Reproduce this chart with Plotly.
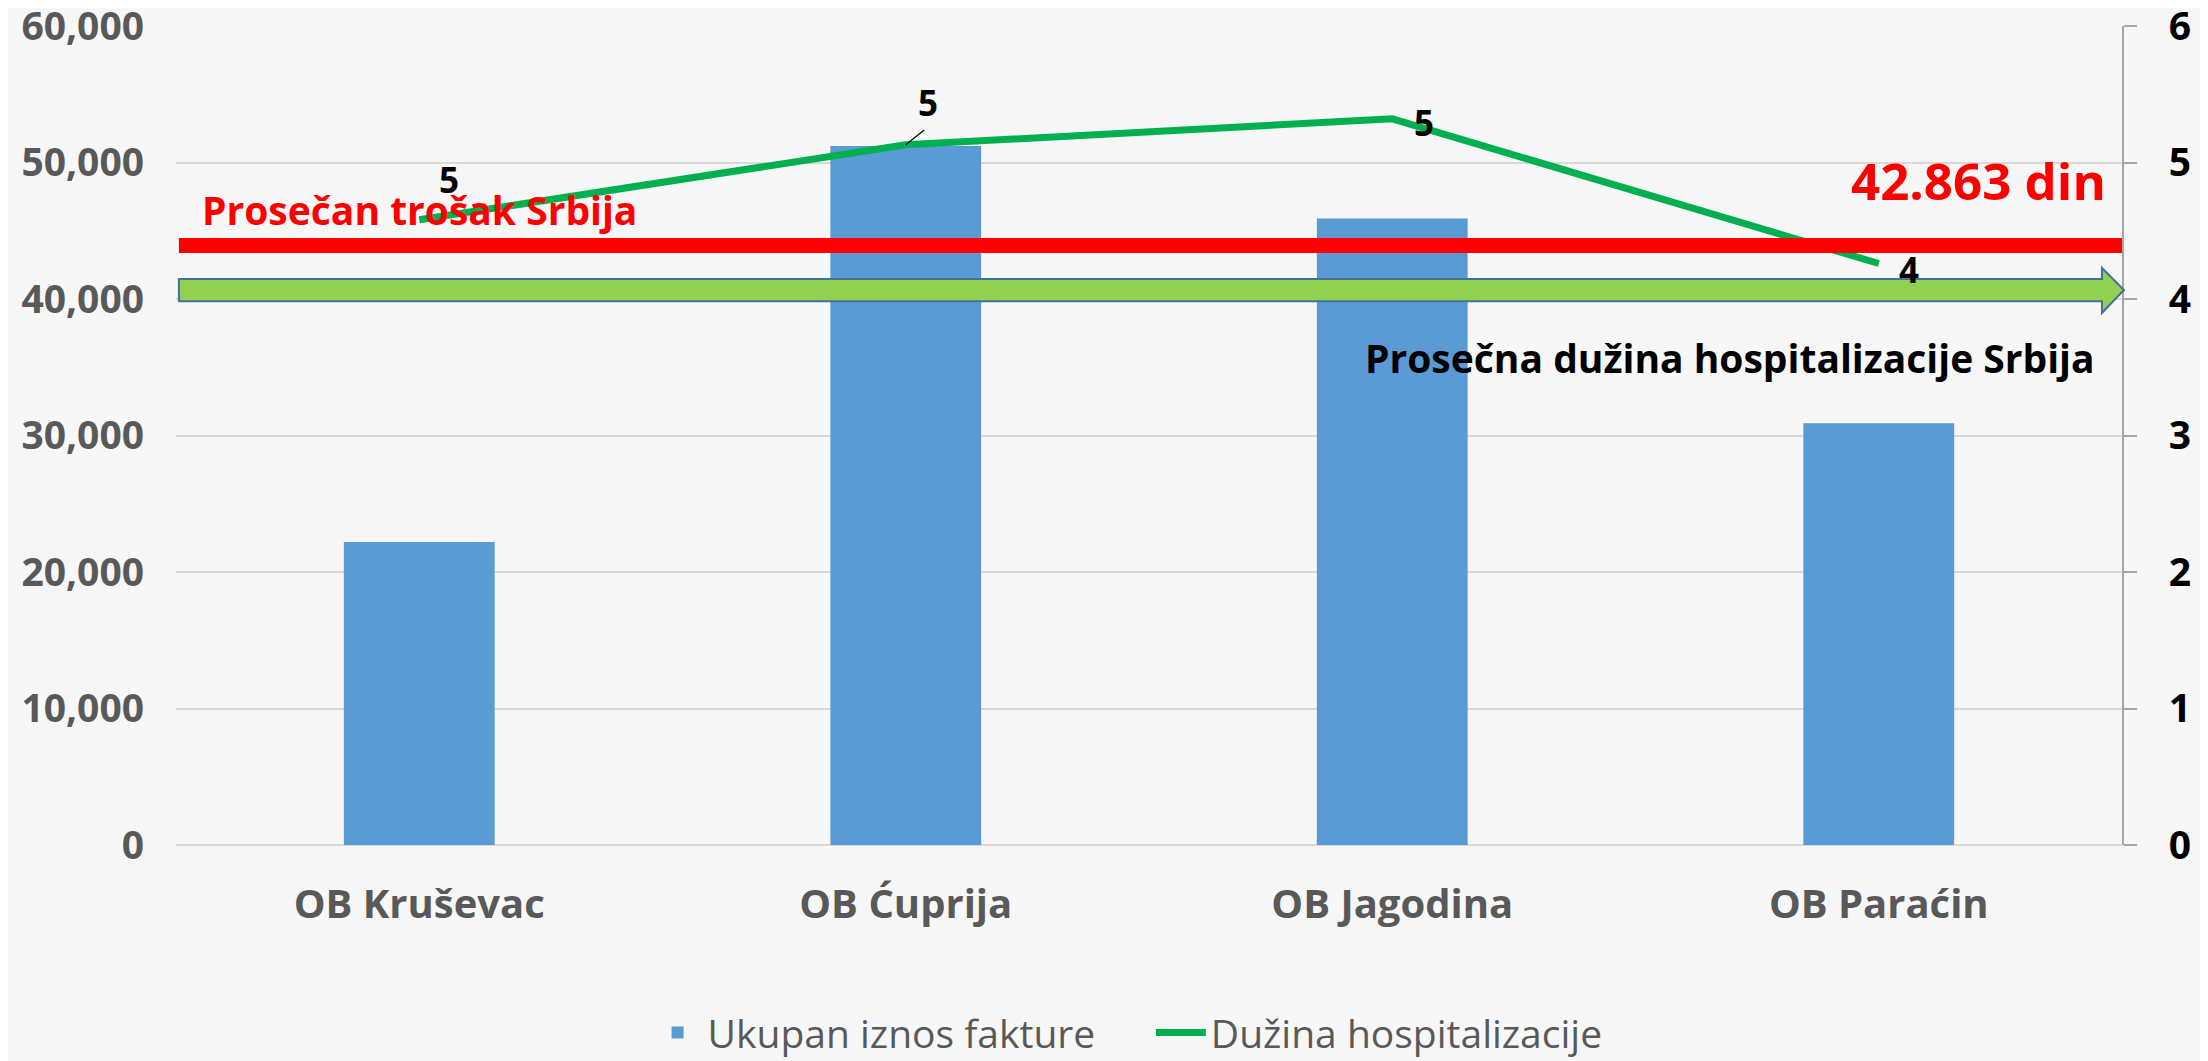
import plotly.graph_objects as go

# ---- data ----
categories = ["OB Kruševac", "OB Ćuprija", "OB Jagodina", "OB Paraćin"]
invoice_total = [22200, 51200, 45900, 30900]          # Ukupan iznos fakture (left axis)
hospital_days = [4.58, 5.13, 5.32, 4.26]              # Dužina hospitalizacije (right axis)
left_ticks = [0, 10000, 20000, 30000, 40000, 50000, 60000]
right_ticks = [0, 1, 2, 3, 4, 5, 6]
series_names = ["Ukupan iznos fakture", "Dužina hospitalizacije"]
avg_cost_label = "42.863 din"
avg_cost_text = "Prosečan trošak Srbija"
avg_stay_text = "Prosečna dužina hospitalizacije Srbija"

FONT = "Open Sans"
BG = "#f7f7f7"
PAD = "\u00a0" * 5

fig = go.Figure()
fig.add_trace(go.Bar(
    x=categories, y=invoice_total, name=series_names[0] + PAD,
    marker=dict(color="#5B9BD5", line=dict(width=0)), yaxis="y",
))
fig.add_trace(go.Scatter(
    x=categories, y=hospital_days, name=series_names[1],
    mode="lines", line=dict(color="#00B050", width=7), yaxis="y2",
))

# data labels (rounded values) next to line points
label_offsets = [(30, -40), (22, -42), (32, 4), (30, 6)]
for cat, val, (dx, dy) in zip(categories, hospital_days, label_offsets):
    fig.add_annotation(
        x=cat, y=val, xref="x", yref="y2", text=f"{round(val):d}",
        showarrow=False, xshift=dx, yshift=-dy,
        font=dict(family=FONT, size=35, color="black", weight="bold"),
    )
# leader line for second label
fig.add_annotation(
    x=categories[1], y=hospital_days[1], xref="x", yref="y2", text="",
    showarrow=True, arrowhead=0, arrowwidth=1.2, arrowcolor="black",
    ax=20, ay=-16, standoff=0,
)

# red average-cost line
fig.add_shape(type="line", xref="paper", yref="paper", x0=0.0015, x1=1.0,
              y0=0.732, y1=0.732, line=dict(color="#FF0000", width=15))
# green arrow (average stay)
ax0, axb, axt = 0.0015, 0.9897, 1.001
yb0, yb1, yh0, yh1, ytip = 0.664, 0.691, 0.6496, 0.7045, 0.6777
fig.add_shape(
    type="path", xref="paper", yref="paper",
    path=(f"M {ax0},{yb0} L {axb},{yb0} L {axb},{yh0} L {axt},{ytip} "
          f"L {axb},{yh1} L {axb},{yb1} L {ax0},{yb1} Z"),
    fillcolor="#92D050", line=dict(color="#41719C", width=2),
)

fig.add_annotation(x=0.0123, y=0.776, xref="paper", yref="paper", text=avg_cost_text,
                   showarrow=False, xanchor="left", yanchor="middle",
                   font=dict(family=FONT, size=39, color="#FF0000", weight="bold"))
fig.add_annotation(x=0.993, y=0.812, xref="paper", yref="paper", text=avg_cost_label,
                   showarrow=False, xanchor="right", yanchor="middle",
                   font=dict(family=FONT, size=51, color="#FF0000", weight="bold"))
fig.add_annotation(x=0.987, y=0.595, xref="paper", yref="paper", text=avg_stay_text,
                   showarrow=False, xanchor="right", yanchor="middle",
                   font=dict(family=FONT, size=39, color="black", weight="bold"))

fig.update_layout(
    width=2200, height=1053,
    margin=dict(l=168, r=86, t=18, b=216, autoexpand=False),
    paper_bgcolor=BG, plot_bgcolor=BG,
    bargap=0.69,
    showlegend=True,
    legend=dict(orientation="h", x=0.489, xanchor="center", y=-0.229, yanchor="middle",
                font=dict(family=FONT, size=39, color="#595959"),
                bgcolor="rgba(0,0,0,0)", itemwidth=50),
    xaxis=dict(
        tickfont=dict(family=FONT, size=40, color="#595959", weight="bold"),
        showgrid=False, showline=False, ticks="", ticklabelstandoff=32,
        automargin=False,
    ),
    yaxis=dict(
        range=[0, 60000], tickvals=left_ticks, tickformat=",",
        tickfont=dict(family=FONT, size=39, color="#595959", weight="bold"),
        showgrid=True, gridcolor="#D9D9D9", gridwidth=2,
        zeroline=True, zerolinecolor="#D9D9D9", zerolinewidth=2,
        showline=False, ticks="", ticklabelstandoff=31, automargin=False,
        ticklabeloverflow="allow",
    ),
    yaxis2=dict(
        range=[0, 6], tickvals=right_ticks, overlaying="y", side="right",
        tickfont=dict(family=FONT, size=39, color="black", weight="bold"),
        showgrid=False, zeroline=False,
        showline=True, linecolor="#A6A6A6", linewidth=2,
        ticks="outside", ticklen=13, tickcolor="#A6A6A6", tickwidth=2,
        ticklabelstandoff=24, automargin=False, ticklabeloverflow="allow",
    ),
)

fig.write_html("out.html")
